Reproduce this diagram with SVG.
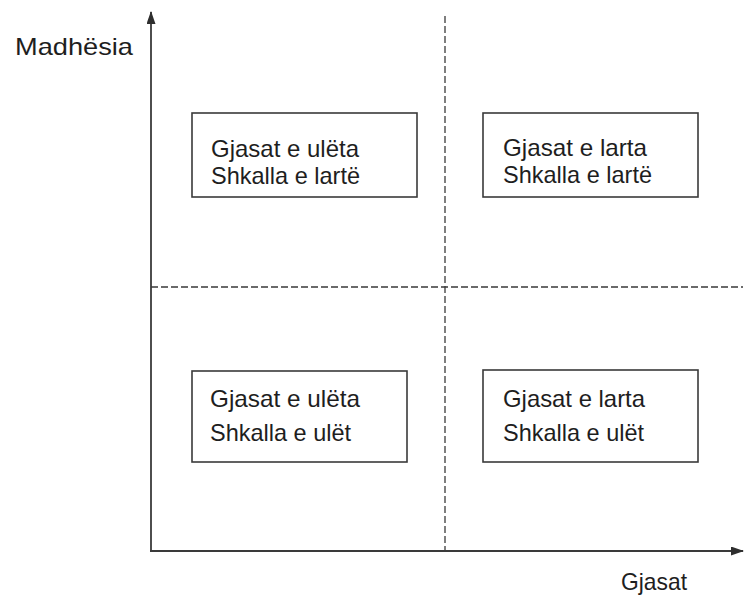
<svg xmlns="http://www.w3.org/2000/svg" width="744" height="597" viewBox="0 0 744 597">
<defs>
<style>
.t{font-family:"Liberation Sans",Arial,sans-serif;font-size:24px;fill:#1e1e1e}
.box{fill:#fff;stroke:#3a3a3a;stroke-width:1.6}
.axis{stroke:#3a3a3a;stroke-width:1.8;fill:none}
.dash{stroke:#3a3a3a;stroke-width:1.3;stroke-dasharray:7 3;fill:none}
</style>
<marker id="ah" markerWidth="13" markerHeight="9" refX="12" refY="4.5" orient="auto" markerUnits="userSpaceOnUse">
<path d="M0,0 L13,4.5 L0,9 Z" fill="#2e2e2e"/>
</marker>
</defs>
<rect width="744" height="597" fill="#fff"/>
<g id="connectors">
<line class="dash" x1="445" y1="16" x2="445" y2="550"/>
<line class="dash" x1="151" y1="287" x2="743" y2="287"/>
<line class="axis" x1="151" y1="551" x2="151" y2="12" marker-end="url(#ah)"/>
<line class="axis" x1="150" y1="551" x2="743" y2="551" marker-end="url(#ah)"/>
</g>
<g id="label-y"><text class="t" x="15" y="55" textLength="118" lengthAdjust="spacingAndGlyphs">Madhësia</text></g>
<g id="label-x"><text class="t" x="621" y="590" textLength="66" lengthAdjust="spacingAndGlyphs">Gjasat</text></g>
<g id="node-tl">
<rect class="box" x="192" y="113" width="225" height="84"/>
<text class="t" x="211" y="157" textLength="148" lengthAdjust="spacingAndGlyphs">Gjasat e ulëta</text>
<text class="t" x="211" y="184" textLength="149" lengthAdjust="spacingAndGlyphs">Shkalla e lartë</text>
</g>
<g id="node-tr">
<rect class="box" x="483" y="113" width="215" height="84"/>
<text class="t" x="503" y="156" textLength="144" lengthAdjust="spacingAndGlyphs">Gjasat e larta</text>
<text class="t" x="503" y="183" textLength="149" lengthAdjust="spacingAndGlyphs">Shkalla e lartë</text>
</g>
<g id="node-bl">
<rect class="box" x="192" y="371" width="215" height="91"/>
<text class="t" x="210" y="407" textLength="150" lengthAdjust="spacingAndGlyphs">Gjasat e ulëta</text>
<text class="t" x="210" y="441" textLength="141" lengthAdjust="spacingAndGlyphs">Shkalla e ulët</text>
</g>
<g id="node-br">
<rect class="box" x="483" y="370" width="215" height="92"/>
<text class="t" x="503" y="407" textLength="142" lengthAdjust="spacingAndGlyphs">Gjasat e larta</text>
<text class="t" x="503" y="441" textLength="141" lengthAdjust="spacingAndGlyphs">Shkalla e ulët</text>
</g>
</svg>
